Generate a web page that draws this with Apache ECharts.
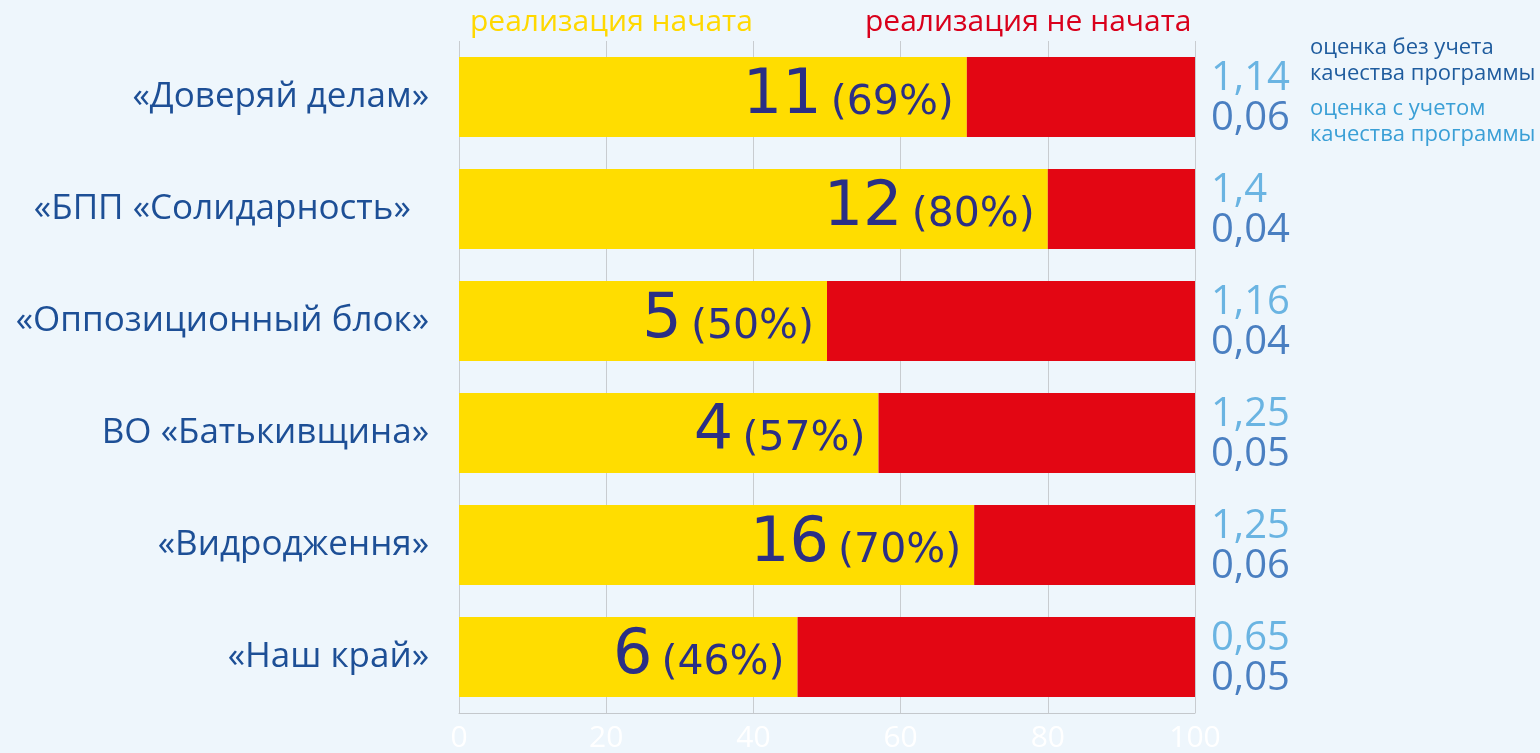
<!DOCTYPE html>
<html><head><meta charset="utf-8">
<script src="https://cdn.jsdelivr.net/npm/echarts@6/dist/echarts.min.js"></script>
<style>html,body{margin:0;padding:0;background:#eef6fc;}#c{width:1540px;height:753px;}</style>
</head><body><div id="c"></div>
<script>
const categories = ['«Доверяй делам»','«БПП «Солидарность»  ','«Оппозиционный блок»','ВО «Батькивщина»','«Видродження»','«Наш край»'];
const startedCount = [11,12,5,4,16,6];
const startedPct = [69,80,50,57,70,46];
const notStartedPct = [31,20,50,43,30,54];
const scoreNoQuality = ['1,14','1,4','1,16','1,25','1,25','0,65'];
const scoreQuality = ['0,06','0,04','0,04','0,05','0,06','0,05'];
const xTicks = [0,20,40,60,80,100];

const FONT = '"Open Sans", "Noto Sans", sans-serif';
const WIDE = '"DejaVu Sans", "Open Sans", sans-serif';
const chart = echarts.init(document.getElementById('c'));
chart.setOption({
  backgroundColor: '#eef6fc',
  textStyle: {fontFamily: FONT},
  legend: [
    {left: 460, top: 2, icon: 'rect', itemWidth: 0, itemHeight: 0, itemGap: 0,
     data: [{name: 'реализация начата', textStyle: {color: '#ffd800', fontSize: 30, fontFamily: FONT}}], selectedMode: false},
    {left: 855, top: 2, icon: 'rect', itemWidth: 0, itemHeight: 0, itemGap: 0,
     data: [{name: 'реализация не начата', textStyle: {color: '#d9001b', fontSize: 30, fontFamily: FONT}}], selectedMode: false}
  ],
  grid: {left: 459, right: 345, top: 41, height: 672, containLabel: false},
  xAxis: {
    type: 'value', min: 0, max: 100, interval: 20,
    axisLine: {show: true, lineStyle: {color: '#c4c8cc'}},
    axisTick: {show: false},
    splitLine: {show: true, lineStyle: {color: '#c8ccd0', width: 1}},
    axisLabel: {color: '#ffffff', fontSize: 30, margin: 10, fontFamily: FONT,
      formatter: v => xTicks.includes(v) ? String(v) : ''}
  },
  yAxis: [
    {type: 'category', inverse: true, data: categories,
     axisLine: {show: false}, axisTick: {show: false},
     axisLabel: {color: '#1d4f96', fontSize: 35, margin: 30, fontFamily: FONT}},
    {type: 'category', inverse: true, position: 'right', data: categories,
     axisLine: {show: false}, axisTick: {show: false},
     axisLabel: {margin: 16, align: 'left', fontFamily: FONT,
       formatter: (v, i) => '{a|' + scoreNoQuality[i] + '}\n{b|' + scoreQuality[i] + '}',
       rich: {
         a: {color: '#6ab4e2', fontSize: 40, lineHeight: 43, fontFamily: FONT, padding: [6, 0, 0, 0]},
         b: {color: '#4a7fc1', fontSize: 40, lineHeight: 43, fontFamily: FONT}
       }}}
  ],
  series: [
    {name: 'реализация начата', type: 'bar', stack: 's', barWidth: 80, yAxisIndex: 0,
     itemStyle: {color: '#ffdd00'},
     data: startedPct,
     label: {show: true, position: 'insideRight', distance: 13,
       formatter: p => '{a|' + startedCount[p.dataIndex] + '} {b|(' + startedPct[p.dataIndex] + '%)}',
       rich: {
         a: {color: '#2b2f85', fontSize: 62, fontFamily: WIDE, padding: [0, 6, 0, 0]},
         b: {color: '#2b2f85', fontSize: 41, fontFamily: WIDE, padding: [12, 0, 0, 0]}
       }}},
    {name: 'реализация не начата', type: 'bar', stack: 's', barWidth: 80, yAxisIndex: 0,
     itemStyle: {color: '#e30613'},
     data: notStartedPct}
  ],
  graphic: [
    {type: 'text', left: 1310, top: 35, style: {text: 'оценка без учета\nкачества программы', fill: '#1f5c9e', fontSize: 22, lineHeight: 26, fontFamily: FONT}},
    {type: 'text', left: 1310, top: 96, style: {text: 'оценка с учетом\nкачества программы', fill: '#3a9fd6', fontSize: 22, lineHeight: 26, fontFamily: FONT}}
  ]
});
</script></body></html>
